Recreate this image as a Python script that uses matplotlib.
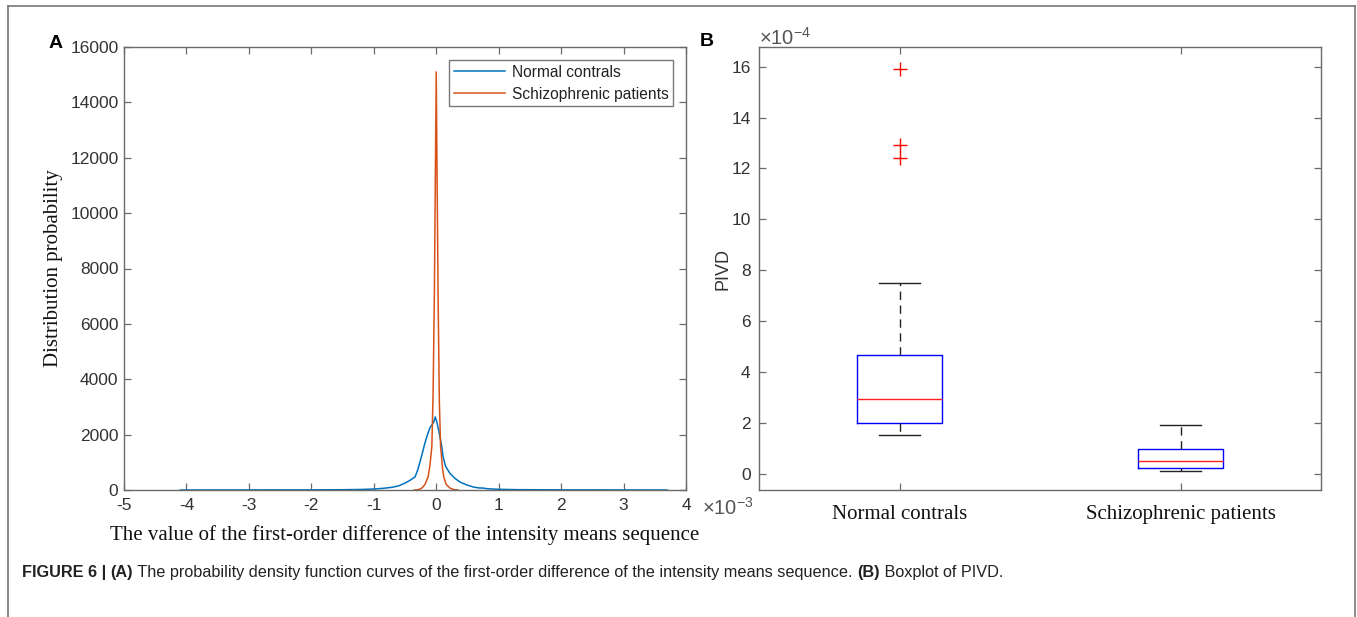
import matplotlib
matplotlib.use('Agg')
import matplotlib.pyplot as plt
from matplotlib.lines import Line2D

plt.rcParams['axes.unicode_minus'] = False
plt.rcParams['mathtext.fontset'] = 'custom'
plt.rcParams['mathtext.rm'] = 'Liberation Sans'
plt.rcParams['mathtext.it'] = 'Liberation Sans:italic'

# ---- panel A data (x in units of 1e-3) ----
normal_x = [-4.1, -3.0, -2.0, -1.5, -1.2, -1.0, -0.85, -0.7, -0.6, -0.5, -0.42, -0.34,
            -0.3, -0.26, -0.22, -0.18, -0.14, -0.1, -0.07, -0.04, -0.016, 0.01, 0.04,
            0.06, 0.09, 0.11, 0.15, 0.22, 0.3, 0.38, 0.48, 0.59, 0.68, 0.75, 0.82,
            1.0, 1.3, 2.0, 3.0, 3.7]
normal_y = [0, 2, 5, 10, 20, 35, 60, 100, 150, 250, 350, 470,
            700, 1010, 1350, 1700, 2000, 2250, 2350, 2450, 2640, 2450, 2150,
            1920, 1550, 1200, 850, 600, 420, 290, 190, 110, 75, 70, 45,
            25, 12, 5, 2, 0]
schizo_x = [-0.35, -0.28, -0.23, -0.18, -0.13, -0.1, -0.07, -0.05, -0.03, -0.015, 0.0,
            0.015, 0.03, 0.05, 0.07, 0.1, 0.12, 0.16, 0.22, 0.28, 0.35]
schizo_y = [0, 15, 70, 200, 470, 900, 1570, 3500, 7000, 11000, 15100,
            11000, 7000, 3200, 1570, 800, 480, 200, 70, 15, 0]
legend_labels = ['Normal contrals', 'Schizophrenic patients']

# ---- panel B data (PIVD, units of 1e-4) ----
groups = ['Normal contrals', 'Schizophrenic patients']
q1 = [2.02, 0.22]
med = [2.94, 0.51]
q3 = [4.69, 0.99]
whislo = [1.53, 0.13]
whishi = [7.50, 1.91]
fliers = [[15.9, 12.92, 12.40], []]

W, H = 1357, 617
fig = plt.figure(figsize=(W / 100, H / 100), dpi=100)

tick_col = '#333333'
spine_col = '#6a6a6a'
sans = ['Liberation Sans', 'DejaVu Sans']
serif = ['Liberation Serif', 'DejaVu Serif']


def px_ax(l, t, r, b):
    return fig.add_axes([l / W, 1 - b / H, (r - l) / W, (b - t) / H])


def style(ax):
    for s in ax.spines.values():
        s.set_color(spine_col)
        s.set_linewidth(1.0)
    ax.tick_params(direction='in', top=True, right=True, length=5, width=0.9,
                   color=spine_col, labelcolor=tick_col, labelsize=12.5)
    for lab in ax.get_xticklabels() + ax.get_yticklabels():
        lab.set_family(sans)


# ---------------- panel A ----------------
axA = px_ax(124, 47, 686, 490)
axA.plot(normal_x, normal_y, color='#0072BD', lw=1.1, label=legend_labels[0])
axA.plot(schizo_x, schizo_y, color='#D95319', lw=1.1, label=legend_labels[1])
axA.set_xlim(-5, 4)
axA.set_ylim(0, 16000)
axA.set_xticks(range(-5, 5))
axA.set_yticks(range(0, 16001, 2000))
style(axA)
axA.tick_params(axis='x', pad=6)
axA.tick_params(axis='y', pad=4)
leg = axA.legend(loc='upper right', bbox_to_anchor=(1 - 13 / 562, 1 - 13 / 443),
                 borderaxespad=0, fancybox=False, frameon=True,
                 prop={'family': sans, 'size': 11.2}, handlelength=3.3,
                 borderpad=0.3, labelspacing=0.45, handletextpad=0.4)
leg.get_frame().set_edgecolor('#555555')
leg.get_frame().set_linewidth(1.0)
for t in leg.get_texts():
    t.set_color('#222222')
axA.set_ylabel('Distribution probability', family=serif, fontsize=15, color='#111111')
axA.yaxis.set_label_coords((63 - 124) / 562, 0.5)
axA.set_xlabel('The value of the first-order difference of the intensity means sequence',
               family=serif, fontsize=15, color='#111111')
axA.xaxis.set_label_coords(0.5, (490 - 525) / 443)
axA.text((702 - 124) / 562, (490 - 508) / 443, r'$\times10^{-3}$', transform=axA.transAxes,
         ha='left', va='center', fontsize=14.5, color='#555555')

# ---------------- panel B ----------------
axB = px_ax(759, 47, 1321, 490)
stats = []
for i, g in enumerate(groups):
    stats.append({'label': g, 'q1': q1[i], 'med': med[i], 'q3': q3[i],
                  'whislo': whislo[i], 'whishi': whishi[i], 'fliers': fliers[i]})
axB.bxp(stats, positions=[1, 2], widths=0.30, showfliers=True,
        boxprops=dict(color='#0000ff', lw=1.0),
        medianprops=dict(color='#ff2020', lw=1.0),
        whiskerprops=dict(color='#222222', lw=1.0, linestyle=(0, (6, 4))),
        capprops=dict(color='#222222', lw=1.0), capwidths=0.145,
        flierprops=dict(marker='+', markeredgecolor='#ff0000', markersize=10,
                        markeredgewidth=1.0, linestyle='none'))
axB.set_xlim(0.5, 2.5)
axB.set_ylim(-0.63, 16.77)
axB.set_yticks(range(0, 17, 2))
axB.set_xticks([1, 2])
style(axB)
axB.set_xticklabels(groups, family=serif, fontsize=15, color='#111111')
axB.tick_params(axis='x', pad=11)
axB.tick_params(axis='y', pad=6)
axB.set_ylabel('PIVD', family=sans, fontsize=13, color=tick_col)
axB.yaxis.set_label_coords((732 - 759) / 562, 0.5)
axB.text(0.0, 1 + 9 / 443, r'$\times10^{-4}$', transform=axB.transAxes,
         ha='left', va='center', fontsize=14.5, color='#555555')

# panel letters
fig.text(56 / W, 1 - 43 / H, 'A', ha='center', va='center', fontsize=14,
         fontweight='bold', family=sans)
fig.text(707 / W, 1 - 42 / H, 'B', ha='center', va='center', fontsize=14,
         fontweight='bold', family=sans)

# outer frame (open at bottom)
fc = '#777777'
fig.add_artist(Line2D([8 / W, 8 / W], [0, 1 - 6 / H], color=fc, lw=1.2, transform=fig.transFigure))
fig.add_artist(Line2D([8 / W, 1355 / W], [1 - 6 / H, 1 - 6 / H], color=fc, lw=1.2, transform=fig.transFigure))
fig.add_artist(Line2D([1355 / W, 1355 / W], [0, 1 - 6 / H], color=fc, lw=1.2, transform=fig.transFigure))

# caption made of bold / regular segments
caption = [('FIGURE 6 | ', 'bold'), ('(A)', 'bold'),
           (' The probability density function curves of the first-order difference of the intensity means sequence. ', 'normal'),
           ('(B)', 'bold'), (' Boxplot of PIVD.', 'normal')]
fig.canvas.draw()
renderer = fig.canvas.get_renderer()
x = 22
for txt, w in caption:
    t = fig.text(x / W, 1 - 572 / H, txt, ha='left', va='center', fontsize=11.7,
                 fontweight=w, family=sans, color='#222222')
    bb = t.get_window_extent(renderer)
    x += bb.width

fig.savefig('out.png', dpi=100)
